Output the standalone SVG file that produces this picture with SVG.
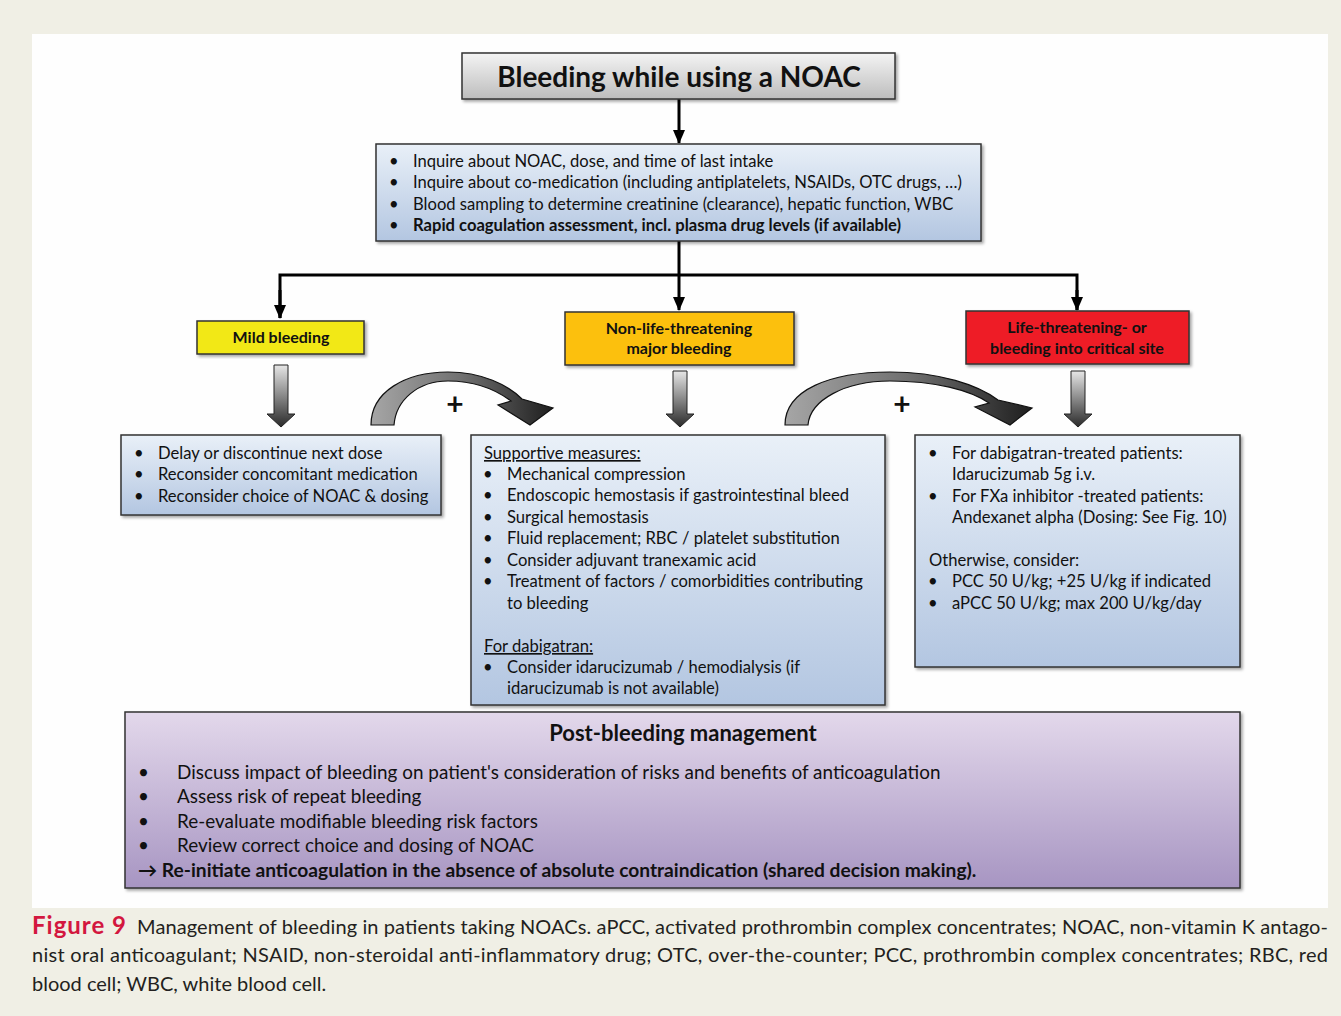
<svg xmlns="http://www.w3.org/2000/svg" width="1341" height="1016" viewBox="0 0 1341 1016">
<defs>
<linearGradient id="gGray" x1="0" y1="0" x2="0" y2="1"><stop offset="0" stop-color="#f4f4f4"/><stop offset="1" stop-color="#bdbdbd"/></linearGradient>
<linearGradient id="gBlue" x1="0" y1="0" x2="0" y2="1"><stop offset="0" stop-color="#e9f0f8"/><stop offset="1" stop-color="#b3c6e1"/></linearGradient>
<linearGradient id="gPurple" x1="0" y1="0" x2="0" y2="1"><stop offset="0" stop-color="#e3d8eb"/><stop offset="1" stop-color="#a795c2"/></linearGradient>
<linearGradient id="gDown" x1="0" y1="0" x2="0" y2="1"><stop offset="0" stop-color="#e6e6e6"/><stop offset="1" stop-color="#2a2a2a"/></linearGradient>
<linearGradient id="gCurve" x1="0" y1="0" x2="1" y2="0"><stop offset="0" stop-color="#a6a6a6"/><stop offset="0.5" stop-color="#707070"/><stop offset="1" stop-color="#1e1e1e"/></linearGradient>
<filter id="sh" x="-5%" y="-5%" width="110%" height="120%"><feDropShadow dx="2" dy="2" stdDeviation="1.5" flood-color="#000" flood-opacity="0.35"/></filter>
<marker id="ah" viewBox="0 0 14 12" refX="13" refY="6" markerWidth="14" markerHeight="12" markerUnits="userSpaceOnUse" orient="auto"><path d="M0,0 L14,6 L0,12 Z" fill="#000"/></marker>
</defs>
<style>
text{font-family:Lato,"Open Sans","Liberation Sans",sans-serif;fill:#111}
.t{font-size:16.6px}
.b{font-weight:bold}
.p{font-size:18.9px}
.box{stroke:#333;stroke-width:1.5}
.ln{stroke:#000;stroke-width:3;fill:none}
.u{text-decoration:underline}
.cap{font-size:20px;fill:#231f20}
.lbl{font-size:16px;font-weight:bold}
</style>
<rect x="0" y="0" width="1341" height="1016" fill="#f0efe5"/>
<rect x="32" y="34" width="1296" height="874" fill="#fefefe"/>

<g id="connectors">
<line class="ln" x1="679" y1="99" x2="679" y2="143" marker-end="url(#ah)"/>
<polyline class="ln" points="679,241 679,275"/>
<polyline class="ln" points="280,318 280,275 1077,275 1077,310"/>
<line class="ln" x1="679" y1="275" x2="679" y2="310" marker-end="url(#ah)"/>
<line class="ln" x1="280" y1="290" x2="280" y2="318" marker-end="url(#ah)"/>
<line class="ln" x1="1077" y1="290" x2="1077" y2="310" marker-end="url(#ah)"/>
<path d="M274,365 H288 V414 H295 L281,427 L267,414 H274 Z" fill="url(#gDown)" stroke="#222" stroke-width="1"/>
<path d="M673,371 H687 V414 H694 L680,427 L666,414 H673 Z" fill="url(#gDown)" stroke="#222" stroke-width="1"/>
<path d="M1071,371 H1085 V414 H1092 L1078,427 L1064,414 H1071 Z" fill="url(#gDown)" stroke="#222" stroke-width="1"/>
<path d="M371,425 C371,392 405,372 448,372 C482,372 508,385 522,399 L553,408 L530,425 L498,405 L511,401 C495,389 474,381 448,381 C418,381 396,400 394,425 Z" fill="url(#gCurve)" stroke="#111" stroke-width="1.2"/>
<path d="M785,425 C785,390 830,372 890,372 C940,372 978,385 998,400 L1032,408 L1010,425 L975,407 L989,403 C970,390 935,381 890,381 C845,381 810,400 808,425 Z" fill="url(#gCurve)" stroke="#111" stroke-width="1.2"/>
<text x="455" y="415" font-size="30" font-weight="bold" text-anchor="middle">+</text>
<text x="902" y="415" font-size="30" font-weight="bold" text-anchor="middle">+</text>
</g>

<g id="title">
<rect class="box" x="462" y="53" width="433" height="46" fill="url(#gGray)" filter="url(#sh)"/>
<text x="679" y="87" font-size="28" class="b" text-anchor="middle">Bleeding while using a NOAC</text>
</g>

<g id="assess">
<rect class="box" x="376" y="144" width="605" height="97" fill="url(#gBlue)" filter="url(#sh)"/>
<g class="t">
<text x="389" y="167">•</text><text x="413" y="167">Inquire about NOAC, dose, and time of last intake</text>
<text x="389" y="188">•</text><text x="413" y="188">Inquire about co-medication (including antiplatelets, NSAIDs, OTC drugs, …)</text>
<text x="389" y="210">•</text><text x="413" y="210">Blood sampling to determine creatinine (clearance), hepatic function, WBC</text>
<text x="389" y="231">•</text><text x="413" y="231" class="b">Rapid coagulation assessment, incl. plasma drug levels (if available)</text>
</g>
</g>

<g id="mild">
<rect class="box" x="197" y="321" width="167" height="33" fill="#f2e816" filter="url(#sh)"/>
<text x="281" y="343" class="lbl" text-anchor="middle">Mild bleeding</text>
</g>

<g id="major">
<rect class="box" x="565" y="312" width="229" height="53" fill="#fcc00f" filter="url(#sh)"/>
<text x="679" y="334" class="lbl" text-anchor="middle">Non-life-threatening</text>
<text x="679" y="354" class="lbl" text-anchor="middle">major bleeding</text>
</g>

<g id="life">
<rect class="box" x="966" y="311" width="223" height="53" fill="#ee1c25" filter="url(#sh)"/>
<text x="1077" y="333" class="lbl" text-anchor="middle">Life-threatening- or</text>
<text x="1077" y="354" class="lbl" text-anchor="middle">bleeding into critical site</text>
</g>

<g id="mild-actions">
<rect class="box" x="121" y="435" width="320" height="80" fill="url(#gBlue)" filter="url(#sh)"/>
<g class="t">
<text x="134" y="459">•</text><text x="158" y="459">Delay or discontinue next dose</text>
<text x="134" y="480">•</text><text x="158" y="480">Reconsider concomitant medication</text>
<text x="134" y="502">•</text><text x="158" y="502">Reconsider choice of NOAC &amp; dosing</text>
</g>
</g>

<g id="major-actions">
<rect class="box" x="471" y="435" width="414" height="270" fill="url(#gBlue)" filter="url(#sh)"/>
<g class="t">
<text x="484" y="459" class="u">Supportive measures:</text>
<text x="483" y="480">•</text><text x="507" y="480">Mechanical compression</text>
<text x="483" y="501">•</text><text x="507" y="501">Endoscopic hemostasis if gastrointestinal bleed</text>
<text x="483" y="523">•</text><text x="507" y="523">Surgical hemostasis</text>
<text x="483" y="544">•</text><text x="507" y="544">Fluid replacement; RBC / platelet substitution</text>
<text x="483" y="566">•</text><text x="507" y="566">Consider adjuvant tranexamic acid</text>
<text x="483" y="587">•</text><text x="507" y="587">Treatment of factors / comorbidities contributing</text>
<text x="507" y="609">to bleeding</text>
<text x="484" y="652" class="u">For dabigatran:</text>
<text x="483" y="673">•</text><text x="507" y="673">Consider idarucizumab / hemodialysis (if</text>
<text x="507" y="694">idarucizumab is not available)</text>
</g>
</g>

<g id="life-actions">
<rect class="box" x="915" y="435" width="325" height="232" fill="url(#gBlue)" filter="url(#sh)"/>
<g class="t">
<text x="928" y="459">•</text><text x="952" y="459">For dabigatran-treated patients:</text>
<text x="952" y="480">Idarucizumab 5g i.v.</text>
<text x="928" y="502">•</text><text x="952" y="502">For FXa inhibitor -treated patients:</text>
<text x="952" y="523">Andexanet alpha (Dosing: See Fig. 10)</text>
<text x="929" y="566">Otherwise, consider:</text>
<text x="928" y="587">•</text><text x="952" y="587">PCC 50 U/kg; +25 U/kg if indicated</text>
<text x="928" y="609">•</text><text x="952" y="609">aPCC 50 U/kg; max 200 U/kg/day</text>
</g>
</g>

<g id="post">
<rect class="box" x="125" y="712" width="1115" height="176" fill="url(#gPurple)" filter="url(#sh)"/>
<text x="683" y="741" font-size="22" class="b" text-anchor="middle">Post-bleeding management</text>
<g class="p">
<text x="138" y="779">•</text><text x="177" y="779">Discuss impact of bleeding on patient's consideration of risks and benefits of anticoagulation</text>
<text x="138" y="803">•</text><text x="177" y="803">Assess risk of repeat bleeding</text>
<text x="138" y="828">•</text><text x="177" y="828">Re-evaluate modifiable bleeding risk factors</text>
<text x="138" y="852">•</text><text x="177" y="852">Review correct choice and dosing of NOAC</text>
<text x="138" y="877" class="b" font-size="19.2">→ Re-initiate anticoagulation in the absence of absolute contraindication (shared decision making).</text>
</g>
</g>

<g id="caption">
<text x="32" y="934" font-size="24" font-weight="bold" letter-spacing="1" style="fill:#d3173f">Figure 9</text>
<text x="137" y="934" class="cap" textLength="1191" lengthAdjust="spacing">Management of bleeding in patients taking NOACs. aPCC, activated prothrombin complex concentrates; NOAC, non-vitamin K antago-</text>
<text x="32" y="962" class="cap" textLength="1296" lengthAdjust="spacing">nist oral anticoagulant; NSAID, non-steroidal anti-inflammatory drug; OTC, over-the-counter; PCC, prothrombin complex concentrates; RBC, red</text>
<text x="32" y="991" class="cap">blood cell; WBC, white blood cell.</text>
</g>
</svg>
